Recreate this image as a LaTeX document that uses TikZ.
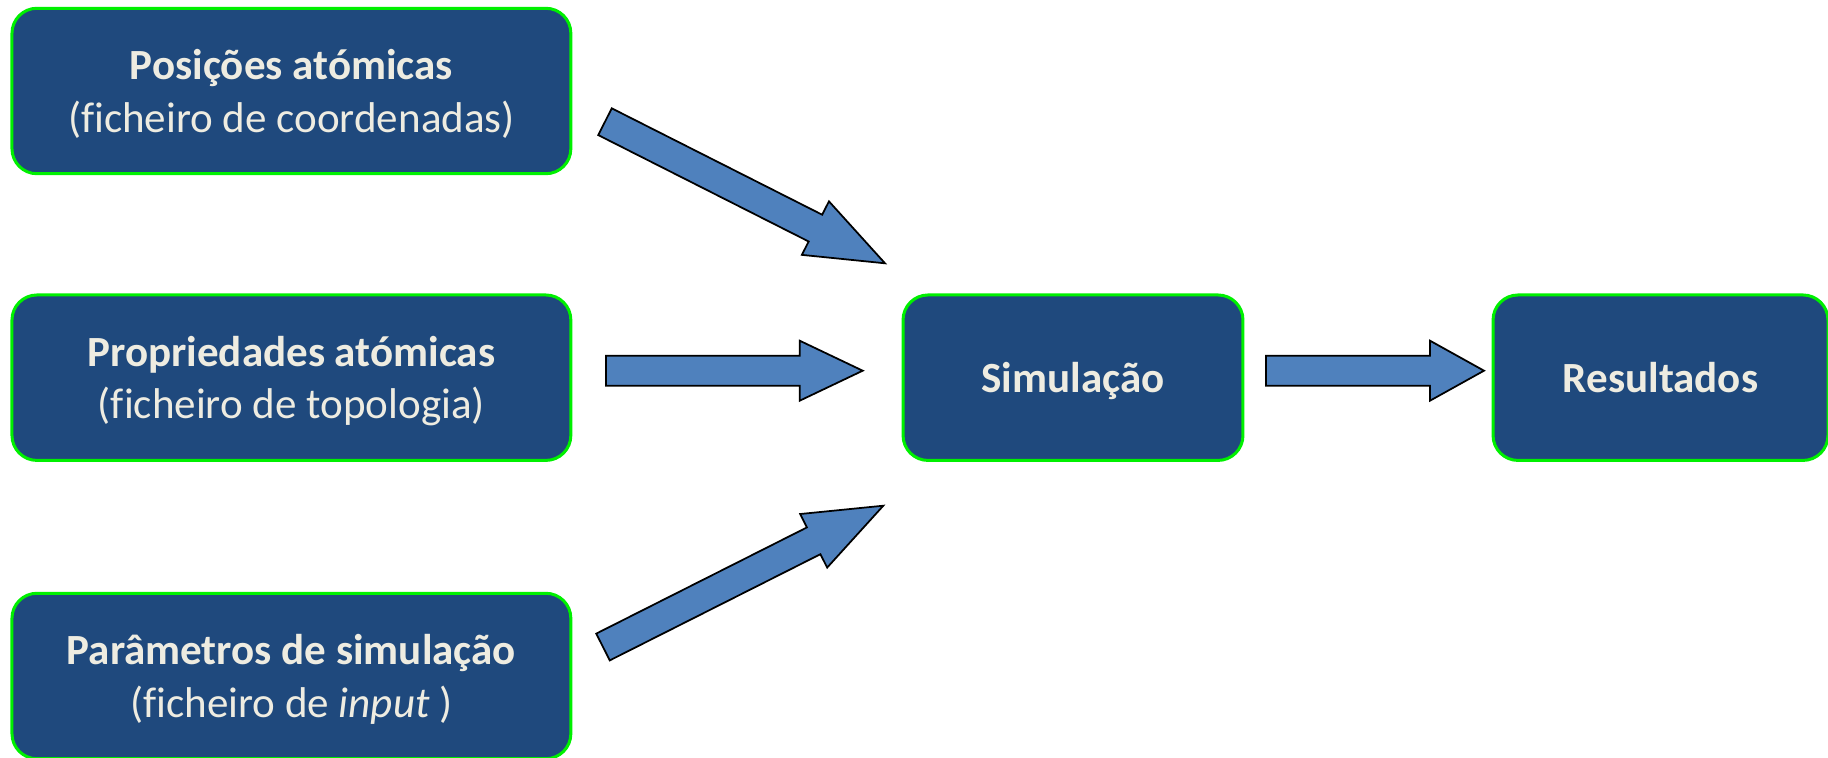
\documentclass[tikz,border=0pt]{standalone}
\usepackage{fontspec}
\setmainfont{Carlito}[Ligatures=NoCommon]
\usetikzlibrary{calc}
\definecolor{boxblue}{HTML}{1F497D}
\definecolor{boxgreen}{HTML}{00F000}
\definecolor{txt}{HTML}{EEECE1}
\definecolor{arrowblue}{HTML}{4F81BD}
\tikzset{
  stage/.style={draw=boxgreen, line width=1.7pt, fill=boxblue, rounded corners=0.5cm,
    text=txt, font=\fontsize{24.5}{29.8}\selectfont, inner sep=0pt,
    minimum height=3.31cm},
  blockarr/.style={draw=black, line width=1pt, fill=arrowblue, line join=miter}
}
\newcommand\lowtext[1]{\raisebox{-2.6pt}[\height][\depth]{\begin{tabular}{@{}c@{}}#1\end{tabular}}}
\newcommand\blockarrow[3]{%
  \coordinate (#1-h) at ($(#2)!#3!(#1)$);
  \draw[blockarr] ($(#1)!0.3cm!90:(#2)$) -- ($(#1-h)!0.3cm!90:(#2)$)
    -- ($(#1-h)!0.6cm!90:(#2)$) -- (#2) -- ($(#1-h)!0.6cm!-90:(#2)$)
    -- ($(#1-h)!0.3cm!-90:(#2)$) -- ($(#1)!0.3cm!-90:(#2)$) -- cycle;
}
\begin{document}
\begin{tikzpicture}[x=0.02cm, y=-0.02cm]
\useasboundingbox (0,0) rectangle (1828,757);
\node[stage, minimum width=11.18cm] (pos) at (291.4,91)
  {\lowtext{\textbf{Posições atómicas}\\(ficheiro de coordenadas)}};
\node[stage, minimum width=11.18cm] (prop) at (291.4,377.7)
  {\lowtext{\textbf{Propriedades atómicas}\\(ficheiro de topologia)}};
\node[stage, minimum width=11.18cm] (par) at (291.4,676)
  {\lowtext{\textbf{Parâmetros de simulação}\\(ficheiro de \textit{input} )}};
\node[stage, minimum width=6.8cm] (sim) at (1073,377.7) {\lowtext{\textbf{Simulação}}};
\node[stage, minimum width=6.7cm] (res) at (1660.5,377.7) {\lowtext{\textbf{Resultados}}};

\coordinate (a1t) at (605,121.7);  \coordinate (a1p) at (885,263.3);
\coordinate (a2t) at (606,370.7);  \coordinate (a2p) at (862.7,370.7);
\coordinate (a3t) at (603,647);    \coordinate (a3p) at (883.3,505.7);
\coordinate (a4t) at (1266,370.7); \coordinate (a4p) at (1484,370.7);

\blockarrow{a1t}{a1p}{1.56cm}
\blockarrow{a2t}{a2p}{1.26cm}
\blockarrow{a3t}{a3p}{1.56cm}
\blockarrow{a4t}{a4p}{1.08cm}
\end{tikzpicture}
\end{document}
